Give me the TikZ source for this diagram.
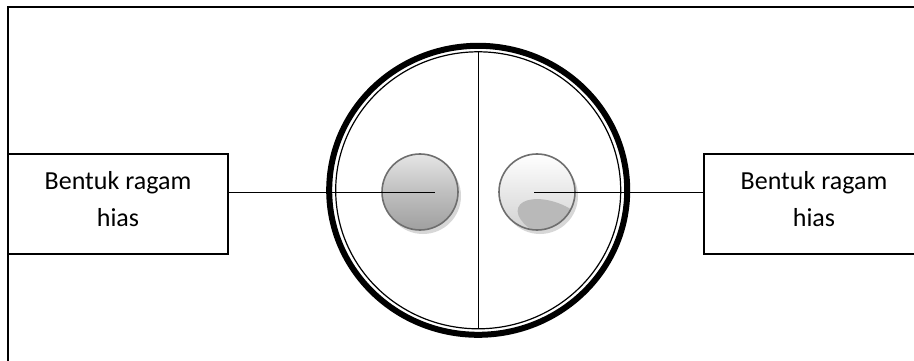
\documentclass[tikz,border=0pt]{standalone}
\usepackage{fontspec}
\setmainfont{Carlito}
\usetikzlibrary{calc}
\definecolor{rimgray}{HTML}{6E6E6E}
\tikzset{
  framebox/.style={draw=black, line width=1.3pt, minimum width=220pt, minimum height=100pt, inner sep=0pt},
  lbl/.style={align=center, inner sep=0pt, font=\fontsize{26pt}{37pt}\selectfont},
  conn/.style={draw=black, line width=1.2pt},
  bigring/.style={draw=black, line width=6pt},
  innerring/.style={draw=black, line width=1.2pt},
  knob/.style={draw=rimgray, line width=1.6pt},
}
\begin{document}
\begin{tikzpicture}[x=1pt,y=-1pt]
\useasboundingbox (0,0) rectangle (914,361);
\clip (0,0) rectangle (914,361);
% outer frame
\draw[line width=1.3pt] (8,370) -- (8,7) -- (930,7);
% big circle
\coordinate (c) at (478.2,190.3);
\draw[bigring] (c) ellipse [x radius=149pt, y radius=144.5pt];
\draw[innerring] (c) ellipse [x radius=142.5pt, y radius=138.5pt];
\coordinate (vt) at (478.2,51.8);
\coordinate (vb) at (478.2,328.8);
\draw[line width=1.2pt] (vt) -- (vb);
% small circles
\coordinate (lc) at (420,192);
\coordinate (rc) at (537,192);
\fill[gray!45, opacity=0.7] ($(lc)+(3,4)$) circle [radius=38pt];
\fill[gray!45, opacity=0.7] ($(rc)+(3,4)$) circle [radius=38pt];
\shade[top color=gray!20, bottom color=gray!75, middle color=gray!50] (lc) circle [radius=38pt];
\shade[top color=white, bottom color=gray!35, middle color=gray!18] (rc) circle [radius=38pt];
\begin{scope}
  \clip (rc) circle [radius=38pt];
  \fill[gray!55, rotate around={-20:(552,220)}] (552,220) ellipse [x radius=36pt, y radius=18pt];
\end{scope}
\draw[knob] (lc) circle [radius=38pt];
\draw[knob] (rc) circle [radius=38pt];
% boxes
\node[framebox] (lbox) at (118,204) {};
\node[lbl] (ltext) at (118,199) {Bentuk ragam\\hias};
\node[framebox] (rbox) at (814,204) {};
\node[lbl] (rtext) at (814,199) {Bentuk ragam\\hias};
% connectors
\coordinate (lend) at (435,192.5);
\coordinate (rstart) at (534,192.5);
\draw[conn] (lbox.east |- lend) -- (lend);
\draw[conn] (rstart) -- (rstart -| rbox.west);
\end{tikzpicture}
\end{document}
